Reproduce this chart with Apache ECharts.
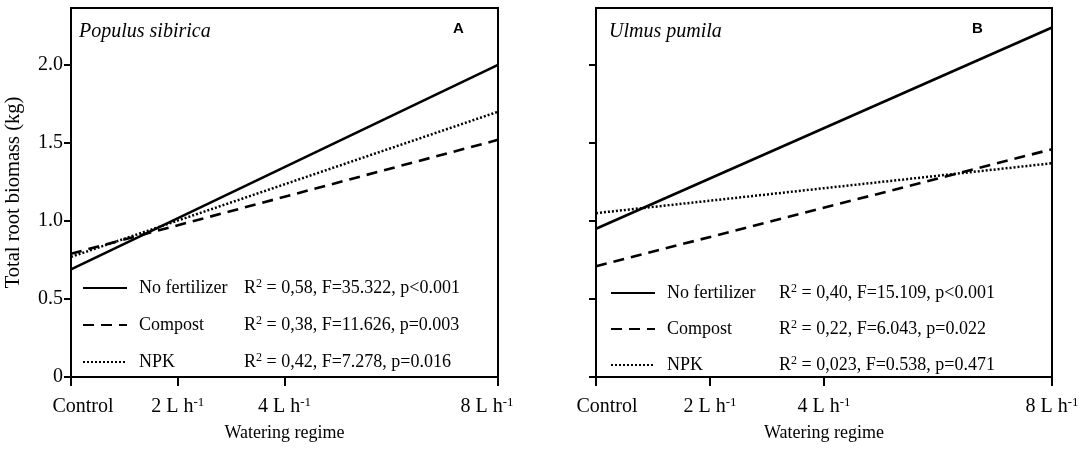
<!DOCTYPE html>
<html><head><meta charset="utf-8">
<script src="https://cdn.jsdelivr.net/npm/echarts@6/dist/echarts.min.js"></script>
<style>html,body{margin:0;padding:0;background:#fff}#c{width:1084px;height:451px}</style>
</head><body><div id="c"></div>
<script>
// ---- data ----
const seriesNames = ['No fertilizer', 'Compost', 'NPK'];
const xEnds = [0, 8];
const xTickValues = [0, 2, 4, 8];
const xTickLabels = ['Control', '2 L h', '4 L h', '8 L h'];
const yTickValues = [0, 0.5, 1, 1.5, 2];
const yTickLabels = ['0', '0.5', '1.0', '1.5', '2.0'];

const populusNoFert = [0.69, 2.00];
const populusCompost = [0.79, 1.52];
const populusNPK = [0.77, 1.70];
const ulmusNoFert = [0.95, 2.24];
const ulmusCompost = [0.71, 1.46];
const ulmusNPK = [1.05, 1.37];

// text after "R²"
const populusStats = [' = 0,58, F=35.322, p<0.001', ' = 0,38, F=11.626, p=0.003', ' = 0,42, F=7.278, p=0.016'];
const ulmusStats = [' = 0,40, F=15.109, p<0.001', ' = 0,22, F=6.043, p=0.022', ' = 0,023, F=0.538, p=0.471'];

// ---- styles ----
const SERIF = '"Liberation Serif", "Times New Roman", serif';
const lineStyles = [
  { color: '#000', width: 2.6, type: 'solid' },
  { color: '#000', width: 2.6, type: [11, 7] },
  { color: '#000', width: 2.5, type: [2, 2] }
];

function pairs(vals) { return xEnds.map((x, i) => [x, vals[i]]); }

const panels = [
  { vals: [populusNoFert, populusCompost, populusNPK], stats: populusStats, showY: true,
    grid: { left: 71, right: 586, top: 8, bottom: 74 }, legendLeft: 82, legendTop: 278, legendGap: 18, nameW: 105,
    ctlPad: 24, endPad: 22 },
  { vals: [ulmusNoFert, ulmusCompost, ulmusNPK], stats: ulmusStats, showY: false,
    grid: { left: 596, right: 32, top: 8, bottom: 74 }, legendLeft: 610, legendTop: 283, legendGap: 17, nameW: 112,
    ctlPad: 22, endPad: 0 }
];

const labelRich = (p) => ({
  m: { fontFamily: SERIF, fontSize: 20, color: '#000', lineHeight: 22 },
  ctl: { fontFamily: SERIF, fontSize: 20, color: '#000', lineHeight: 22, padding: [0, 0, 0, p.ctlPad] },
  sup: { fontFamily: SERIF, fontSize: 13, color: '#000', lineHeight: 13, verticalAlign: 'top' },
  supE: { fontFamily: SERIF, fontSize: 13, color: '#000', lineHeight: 13, verticalAlign: 'top', padding: [0, p.endPad, 0, 0] }
});

const option = {
  animation: false,
  backgroundColor: '#fff',
  color: ['#000', '#000', '#000'],
  grid: panels.map(p => Object.assign({ show: true, borderColor: '#000', borderWidth: 2, backgroundColor: 'transparent', outerBoundsMode: 'none', containLabel: false }, p.grid)),
  xAxis: panels.map((p, gi) => ({
    type: 'value', gridIndex: gi, min: 0, max: 8,
    name: 'Watering regime', nameLocation: 'middle', nameGap: 47,
    nameTextStyle: { fontFamily: SERIF, fontSize: 18, color: '#000' },
    axisLine: { show: true, lineStyle: { color: '#000', width: 2 } },
    axisTick: { show: true, inside: false, length: 9, lineStyle: { color: '#000', width: 2 }, customValues: xTickValues },
    splitLine: { show: false },
    axisLabel: {
      margin: 19, customValues: xTickValues, color: '#000',
      formatter: function (v) {
        const i = xTickValues.indexOf(v);
        if (i < 0) return '';
        if (i === 0) return '{ctl|' + xTickLabels[0] + '}';
        if (i === xTickValues.length - 1) return '{m|' + xTickLabels[i] + '}{supE|-1}';
        return '{m|' + xTickLabels[i] + '}{sup|-1}';
      },
      rich: labelRich(p)
    }
  })),
  yAxis: panels.map((p, gi) => ({
    type: 'value', gridIndex: gi, min: 0, max: 2.365,
    name: p.showY ? 'Total root biomass (kg)' : '', nameLocation: 'middle', nameGap: 47,
    nameTextStyle: { fontFamily: SERIF, fontSize: 20.5, color: '#000' },
    axisLine: { show: true, lineStyle: { color: '#000', width: 2 } },
    axisTick: { show: true, inside: false, length: 7, lineStyle: { color: '#000', width: 2 }, customValues: yTickValues },
    splitLine: { show: false },
    axisLabel: {
      show: p.showY, margin: 8, customValues: yTickValues,
      fontFamily: SERIF, fontSize: 20, color: '#000',
      formatter: function (v) {
        const i = yTickValues.indexOf(v);
        return i < 0 ? '' : yTickLabels[i];
      }
    }
  })),
  title: [
    { text: 'Populus sibirica', left: 79, top: 22, textStyle: { fontFamily: SERIF, fontStyle: 'italic', fontWeight: 'normal', fontSize: 20, color: '#000' }, padding: 0 },
    { text: 'A', left: 453, top: 21, textStyle: { fontFamily: '"Liberation Sans", Arial, sans-serif', fontWeight: 'bold', fontSize: 15, color: '#000' }, padding: 0 },
    { text: 'Ulmus pumila', left: 609, top: 22, textStyle: { fontFamily: SERIF, fontStyle: 'italic', fontWeight: 'normal', fontSize: 20, color: '#000' }, padding: 0 },
    { text: 'B', left: 972, top: 21, textStyle: { fontFamily: '"Liberation Sans", Arial, sans-serif', fontWeight: 'bold', fontSize: 15, color: '#000' }, padding: 0 }
  ],
  legend: panels.map((p, gi) => ({
    data: seriesNames, orient: 'vertical', left: p.legendLeft, top: p.legendTop,
    itemWidth: 44, itemHeight: 14, itemGap: p.legendGap, padding: 0, selectedMode: false,
    itemStyle: { opacity: 0 },
    formatter: function (name) {
      const i = seriesNames.indexOf(name);
      return '{n|' + name + '}{s|R}{r2|2}{s|' + p.stats[i] + '}';
    },
    textStyle: {
      color: '#000',
      rich: {
        n: { fontFamily: SERIF, fontSize: 18, color: '#000', width: p.nameW, padding: [0, 0, 0, 7], lineHeight: 20 },
        s: { fontFamily: SERIF, fontSize: 18, color: '#000', lineHeight: 20 },
        r2: { fontFamily: SERIF, fontSize: 12, color: '#000', lineHeight: 12, verticalAlign: 'top' }
      }
    }
  })),
  series: []
};

panels.forEach((p, gi) => {
  seriesNames.forEach((nm, si) => {
    option.series.push({
      type: 'line', name: nm, xAxisIndex: gi, yAxisIndex: gi,
      data: pairs(p.vals[si]), symbol: 'none', showSymbol: false,
      itemStyle: { color: '#000' },
      lineStyle: lineStyles[si], silent: true
    });
  });
});

const chart = echarts.init(document.getElementById('c'), null, { renderer: 'canvas' });
chart.setOption(option);
</script>
</body></html>
